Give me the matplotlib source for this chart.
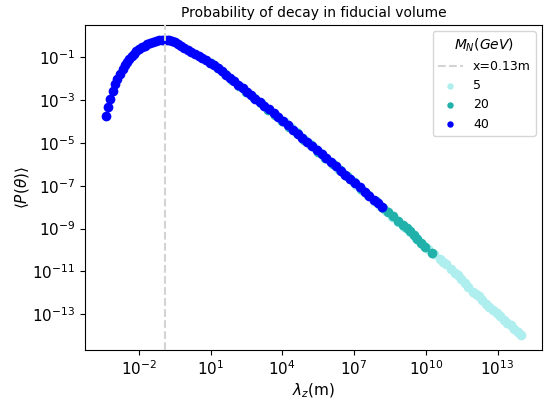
import matplotlib
matplotlib.use("Agg")
import matplotlib.pyplot as plt
import numpy as np

# values, as log10(lambda_z [m]) and log10(<P>)
lx_40 = [-3.38, -3.30, -3.20, -3.08, -2.99, -2.89, -2.79, -2.68, -2.59, -2.50,
         -2.40, -2.30, -2.20, -2.10, -1.99, -1.88, -1.76, -1.64, -1.52, -1.40,
         -1.28, -1.16, -1.05, -0.95, -0.84, -0.72, -0.60, -0.48, -0.36, -0.25,
         -0.10, 0.05, 0.20, 0.35, 0.50, 0.65, 0.80, 0.97, 1.13, 1.30,
         1.47, 1.64, 1.81, 1.98, 2.16, 2.34, 2.52, 2.70, 2.88, 3.06,
         3.25, 3.44, 3.64, 3.84, 4.04, 4.24, 4.44, 4.64, 4.84, 5.04,
         5.24, 5.44, 5.64, 5.84, 6.04, 6.24, 6.44, 6.64, 6.84, 7.04,
         7.24, 7.44, 7.64, 7.84, 8.00, 8.15]
ly_40 = [-3.74, -3.33, -2.92, -2.55, -2.26, -1.99, -1.76, -1.53, -1.36, -1.21,
         -1.06, -0.93, -0.82, -0.72, -0.62, -0.53, -0.45, -0.37, -0.31, -0.26,
         -0.22, -0.19, -0.18, -0.175, -0.18, -0.20, -0.24, -0.30, -0.38, -0.46,
         -0.55, -0.64, -0.73, -0.82, -0.92, -1.02, -1.13, -1.25, -1.37, -1.51,
         -1.65, -1.80, -1.95, -2.11, -2.27, -2.44, -2.60, -2.76, -2.92, -3.09,
         -3.26, -3.43, -3.61, -3.80, -3.99, -4.18, -4.37, -4.56, -4.75, -4.94,
         -5.13, -5.32, -5.51, -5.70, -5.90, -6.09, -6.29, -6.48, -6.68, -6.88,
         -7.07, -7.27, -7.47, -7.66, -7.82, -7.97]

lx_20 = [1.00, 1.30, 1.60, 1.90, 2.20, 2.50, 2.80, 3.10, 3.40, 3.70,
         4.00, 4.30, 4.60, 4.90, 5.20, 5.50, 5.80, 6.10, 6.40, 6.70,
         7.00, 7.30, 7.60, 7.90, 8.20, 8.40, 8.64, 8.85, 9.05, 9.20,
         9.33, 9.50, 9.65, 9.80, 9.95, 10.24]
ly_20 = [-1.27, -1.50, -1.78, -2.07, -2.32, -2.60, -2.88, -3.15, -3.44, -3.70,
         -3.97, -4.27, -4.54, -4.84, -5.11, -5.41, -5.68, -5.98, -6.27, -6.56,
         -6.84, -7.14, -7.43, -7.73, -8.03, -8.22, -8.43, -8.62, -8.83, -8.98,
         -9.12, -9.31, -9.48, -9.66, -9.84, -10.16]

lx_5 = [4.10, 4.35, 4.60, 4.85, 5.10, 5.35, 5.60, 5.85, 6.10, 6.35,
        6.60, 6.85, 7.10, 7.35, 7.60, 7.85, 8.10, 8.35, 8.60, 8.85,
        9.10, 9.35, 9.60, 9.85, 10.10, 10.35, 10.58, 10.72, 10.86, 11.05,
        11.21, 11.33, 11.48, 11.62, 11.78, 11.97, 12.10, 12.22, 12.37, 12.52,
        12.66, 12.80, 12.96, 13.10, 13.27, 13.40, 13.55, 13.70, 13.85, 13.99]
ly_5 = [-4.02, -4.27, -4.50, -4.75, -4.99, -5.24, -5.47, -5.73, -5.96, -6.21,
        -6.45, -6.70, -6.94, -7.19, -7.45, -7.70, -7.94, -8.18, -8.44, -8.68,
        -8.93, -9.16, -9.43, -9.70, -9.95, -10.20, -10.44, -10.58, -10.67, -10.90,
        -11.06, -11.18, -11.36, -11.55, -11.73, -11.96, -12.06, -12.16, -12.33, -12.50,
        -12.64, -12.80, -12.95, -13.10, -13.27, -13.40, -13.52, -13.68, -13.84, -13.98]

x_cut = 0.13

fig = plt.figure(figsize=(5.51, 3.99), dpi=100)
ax = fig.add_axes([85/551, 1-350/399, (542-85)/551, (350-25)/399])

s5 = ax.scatter(10**np.array(lx_5), 10**np.array(ly_5), color='paleturquoise', s=36, label='5')
s20 = ax.scatter(10**np.array(lx_20), 10**np.array(ly_20), color='lightseagreen', s=36, label='20')
s40 = ax.scatter(10**np.array(lx_40), 10**np.array(ly_40), color='blue', s=36, label='40')
ln = ax.axvline(x_cut, color='lightgray', ls='--', lw=1.5, label='x=0.13m', zorder=3)

ax.set_xscale('log')
ax.set_yscale('log')
ax.set_xticks([10.0**k for k in range(-2, 14, 3)])
ax.set_yticks([10.0**k for k in range(-13, 0, 2)])
ax.xaxis.set_minor_locator(matplotlib.ticker.NullLocator())
ax.yaxis.set_minor_locator(matplotlib.ticker.NullLocator())
ax.tick_params(labelsize=11)

ax.set_xlabel(r'$\lambda_z$(m)', fontsize=11, labelpad=2)
ax.set_ylabel(r'$\langle P(\theta)\rangle$', fontsize=11, labelpad=1)
ax.set_title('Probability of decay in fiducial volume', fontsize=10)
ax.legend(handles=[ln, s5, s20, s40], title='$M_N(GeV)$', title_fontsize=10,
          fontsize=9, loc='upper right', markerscale=0.6)

plt.savefig('out.png')
